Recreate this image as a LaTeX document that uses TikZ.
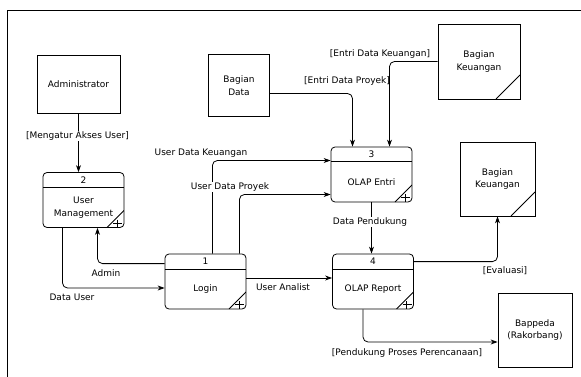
\documentclass[tikz,border=0pt]{standalone}
\usepackage{fontspec}
\setmainfont{DejaVu Sans}
\usepackage{tikz}
\usetikzlibrary{calc, positioning, arrows.meta}
\tikzstyle{ent}=[draw, align=center, inner sep=2pt, line width=0.8pt]
\tikzstyle{dupl}=[path picture={\draw[line width=0.8pt] ([xshift=-24pt]path picture bounding box.south east) -- ([yshift=24pt]path picture bounding box.south east);}]
\tikzstyle{proc}=[draw, line width=0.8pt, rounded corners=4pt, minimum width=81pt, minimum height=55pt, inner sep=0pt,
  path picture={
    \draw[line width=1pt] ([yshift=-15pt]path picture bounding box.north west) -- ([yshift=-15pt]path picture bounding box.north east);
    \draw[line width=0.8pt] ([xshift=-17pt]path picture bounding box.south east) -- ([yshift=17pt]path picture bounding box.south east);
    \draw[line width=0.8pt] ([xshift=-11pt,yshift=4.5pt]path picture bounding box.south east) -- ++(9pt,0pt);
    \draw[line width=0.8pt] ([xshift=-7pt,yshift=8pt]path picture bounding box.south east) -- ++(0pt,-8pt);}]
\tikzstyle{flow}=[draw, -{Stealth[length=7pt, width=5pt]}, rounded corners=5pt, line width=0.8pt]
\tikzstyle{lbl}=[inner sep=1pt]

\begin{document}
\begin{tikzpicture}[x=1pt, y=-1pt, font=\fontsize{9}{12.5}\selectfont]
\useasboundingbox (0,0) rectangle (581,377);
% the frame
\draw[line width=0.8pt] (7,377) -- (7,10) -- (581,10);
% the external entities
\node[ent, minimum width=83pt, minimum height=58pt] (Adm) at (78.5,84) {Administrator};
\node[ent, minimum width=61pt, minimum height=62pt] (BD) at (239,85.5) {Bagian\\Data};
\node[ent, dupl, minimum width=82pt, minimum height=75pt] (BKt) at (479,61.5) {Bagian\\Keuangan};
\node[ent, dupl, minimum width=75pt, minimum height=74pt] (BKr) at (497.5,179) {Bagian\\Keuangan};
\node[ent, minimum width=74pt, minimum height=74pt] (Bap) at (535,330) {Bappeda\\(Rakorbang)};
% the processes
\node[proc, label={[yshift=20pt]center:1}, label={[yshift=-7.5pt]center:Login}] (P1) at (205.5,281.5) {};
\node[proc, label={[yshift=20pt]center:2}, label={[yshift=-7.5pt, align=center]center:{User\\Management}}] (P2) at (83.5,200) {};
\node[proc, label={[yshift=20pt]center:3}, label={[yshift=-7.5pt]center:OLAP Entri}] (P3) at (371.5,174.5) {};
\node[proc, label={[yshift=20pt]center:4}, label={[yshift=-7.5pt]center:OLAP Report}] (P4) at (373,281.5) {};
% the data flows
\draw[flow] (Adm.south) -- (Adm.south |- P2.north);
\draw[flow] ([yshift=-8pt]BD.east) -| ([xshift=-19pt]P3.north);
\draw[flow] (BKt.west) -| ([xshift=18pt]P3.north);
\draw[flow] ([xshift=-34pt]P1.north east) |- ([yshift=14pt]P3.west);
\draw[flow] ([xshift=-7pt]P1.north east) |- ([yshift=-20pt]P3.west);
\draw[flow] ([yshift=-10pt]P1.north west) -| ([xshift=14pt]P2.south);
\draw[flow] ([xshift=-21pt]P2.south) |- ([yshift=-6.5pt]P1.west);
\draw[flow] ([yshift=3.5pt]P1.east) -- ([yshift=3.5pt]P4.west);
\draw[flow] (P3.south) -- (P3.south |- P4.north);
\draw[flow] ([yshift=-8pt]P4.north east) -| (BKr.south);
\draw[flow] ([xshift=-10pt]P4.south) |- ([yshift=-12pt]Bap.west);
% the flow labels
\node[lbl, fill=white] (lMAU) at (77.5,136) {[Mengatur Akses User]};
\node[lbl] (lEDP) at (347,81) {[Entri Data Proyek]};
\node[lbl] (lEDK) at (380,54) {[Entri Data Keuangan]};
\node[lbl] (lUDK) at (201,153) {User Data Keuangan};
\node[lbl, fill=white] (lUDP) at (230,187) {User Data Proyek};
\node[lbl] (lAdm) at (106,273) {Admin};
\node[lbl] (lDU) at (72,297) {Data User};
\node[lbl] (lUA) at (283,287) {User Analist};
\node[lbl, fill=white] (lDP) at (370,222) {Data Pendukung};
\node[lbl] (lEv) at (505,271) {[Evaluasi]};
\node[lbl] (lPPP) at (407,353) {[Pendukung Proses Perencanaan]};
\end{tikzpicture}
\end{document}
